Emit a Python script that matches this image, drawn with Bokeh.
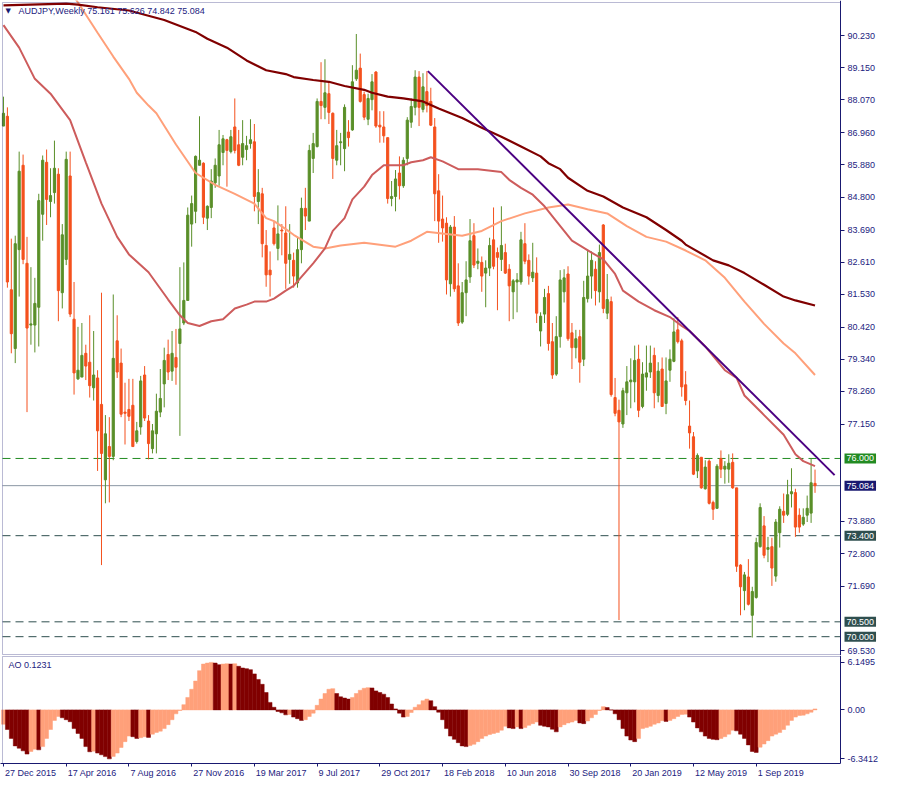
import numpy as np
from bokeh.plotting import figure
from bokeh.layouts import column
from bokeh.models import (ColumnDataSource, FixedTicker, LinearAxis, Label, BoxAnnotation,
                          NumeralTickFormatter, CustomJSTickFormatter, Range1d)
from bokeh.embed import file_html
from bokeh.resources import INLINE

# ---------------- data (weekly AUDJPY, bar 0 = 27 Dec 2015) ----------------
OPEN = [
    87.19, 87.52, 81.68, 79.70, 83.03, 85.87, 82.57, 80.49, 80.49, 81.09,
    84.22, 85.97, 84.65, 84.95, 85.57, 81.58, 82.70, 85.51, 80.69, 78.68,
    78.74, 79.54, 79.24, 78.38, 78.71, 77.82, 75.28, 76.40, 76.07, 79.96,
    79.21, 77.56, 77.65, 77.79, 76.57, 77.06, 78.81, 77.26, 76.33, 76.83,
    77.56, 78.51, 79.50, 78.94, 79.40, 79.87, 80.56, 81.32, 83.89, 84.32,
    85.87, 85.94, 84.09, 84.45, 85.28, 85.51, 86.30, 86.73, 86.33, 87.16,
    86.56, 86.14, 86.40, 86.60, 86.66, 84.65, 84.91, 83.17, 82.34, 83.76,
    83.07, 83.69, 83.59, 82.70, 82.67, 81.91, 83.03, 84.42, 83.99, 86.10,
    86.50, 88.02, 87.82, 88.28, 87.62, 86.04, 86.63, 86.43, 86.99, 87.06,
    88.78, 89.14, 88.25, 87.42, 88.08, 89.01, 87.22, 87.16, 86.80, 84.75,
    84.82, 85.61, 85.18, 86.10, 87.32, 87.82, 88.84, 87.75, 88.35, 88.02,
    87.16, 85.01, 84.06, 83.92, 81.88, 83.79, 81.81, 80.59, 81.58, 82.11,
    83.50, 82.57, 82.60, 82.24, 82.41, 83.36, 82.93, 82.70, 82.93, 82.37,
    81.61, 81.94, 81.94, 83.23, 82.67, 82.08, 82.24, 80.29, 80.86, 81.55,
    79.93, 78.84, 80.10, 81.61, 82.21, 80.23, 79.73, 80.10, 79.34, 81.38,
    82.14, 82.37, 81.61, 83.86, 80.89, 81.28, 78.05, 77.62, 77.16, 78.21,
    78.58, 78.58, 79.34, 77.75, 78.74, 78.91, 79.47, 78.12, 79.01, 77.85,
    78.97, 79.27, 80.33, 79.96, 78.48, 77.09, 76.73, 75.58, 76.04, 74.98,
    75.91, 74.52, 74.32, 76.00, 75.64, 75.64, 75.87, 75.01, 72.41, 71.55,
    72.01, 70.72, 71.32, 73.03, 73.73, 72.94, 73.03, 72.04, 73.50, 74.22,
    74.12, 74.81, 74.85, 74.09, 73.79, 74.09, 74.16, 75.161]
HIGH = [
    88.18, 87.82, 83.40, 83.50, 86.33, 86.23, 83.46, 82.44, 82.08, 84.91,
    86.20, 86.40, 85.77, 86.70, 85.77, 83.89, 86.33, 86.33, 81.94, 80.43,
    80.56, 79.83, 80.82, 80.29, 78.97, 81.58, 77.46, 77.39, 81.52, 80.82,
    79.70, 78.55, 78.68, 78.68, 77.23, 78.78, 79.11, 77.46, 77.16, 78.18,
    79.01, 79.73, 80.00, 80.29, 80.36, 82.44, 82.60, 84.45, 84.85, 86.20,
    87.52, 85.97, 84.52, 85.74, 86.10, 87.06, 86.89, 86.76, 87.06, 88.12,
    87.06, 87.39, 86.86, 87.42, 87.26, 85.74, 85.11, 83.69, 82.97, 83.96,
    84.52, 83.89, 84.49, 83.89, 82.93, 83.46, 84.78, 85.11, 86.56, 86.96,
    88.12, 89.34, 89.44, 88.64, 87.65, 87.06, 86.96, 87.92, 87.39, 89.24,
    90.29, 89.63, 88.35, 88.28, 88.94, 89.04, 87.69, 87.69, 86.80, 85.34,
    85.71, 86.17, 86.14, 87.49, 88.12, 89.07, 89.04, 88.97, 89.04, 88.48,
    87.46, 85.57, 84.85, 84.12, 83.86, 84.16, 82.57, 81.94, 82.64, 84.06,
    83.92, 83.07, 82.80, 82.67, 83.43, 84.45, 83.10, 84.49, 83.23, 82.54,
    82.04, 82.24, 83.63, 83.92, 82.87, 83.26, 82.77, 80.92, 81.71, 81.81,
    80.56, 80.79, 82.34, 82.37, 82.47, 80.56, 80.33, 80.33, 81.98, 83.03,
    82.97, 82.64, 83.20, 83.89, 82.21, 81.45, 78.71, 77.98, 78.38, 79.11,
    79.37, 79.80, 79.83, 79.24, 79.80, 79.80, 79.73, 79.24, 79.40, 79.40,
    79.67, 80.72, 80.76, 80.03, 78.94, 77.95, 76.89, 76.17, 76.04, 75.94,
    75.97, 74.58, 75.81, 76.27, 75.91, 76.14, 76.17, 75.01, 72.44, 72.18,
    72.61, 71.68, 73.33, 74.49, 74.06, 73.36, 73.33, 73.96, 74.39, 74.82,
    75.28, 75.67, 74.98, 74.32, 74.32, 74.75, 76.00, 75.626]
LOW = [
    87.19, 81.75, 79.54, 79.21, 81.45, 82.54, 77.56, 79.83, 79.57, 79.77,
    83.33, 83.86, 84.12, 84.58, 80.62, 81.05, 82.51, 80.76, 78.15, 78.64,
    78.74, 78.64, 78.05, 77.95, 75.58, 72.41, 74.49, 74.52, 75.94, 78.71,
    77.39, 76.47, 77.26, 76.40, 76.50, 76.80, 77.26, 75.97, 76.17, 76.17,
    77.39, 77.72, 78.64, 78.61, 78.48, 76.76, 80.49, 81.32, 83.13, 83.92,
    85.87, 83.89, 83.69, 84.09, 85.11, 85.18, 85.87, 85.15, 86.27, 86.27,
    85.84, 85.87, 86.04, 86.43, 84.32, 83.89, 82.77, 81.78, 81.45, 83.17,
    82.67, 82.84, 81.71, 81.88, 81.75, 81.75, 82.57, 83.69, 83.99, 85.61,
    86.47, 87.42, 87.42, 87.26, 85.41, 85.87, 85.87, 85.67, 86.50, 87.03,
    88.71, 87.98, 87.39, 87.22, 87.72, 87.13, 86.63, 86.63, 84.58, 84.49,
    84.32, 84.72, 85.11, 85.87, 87.13, 87.55, 87.19, 87.65, 87.65, 87.19,
    83.99, 83.26, 83.30, 81.52, 81.45, 81.61, 80.46, 80.53, 80.79, 81.91,
    82.41, 82.37, 81.61, 81.09, 82.14, 82.37, 80.99, 82.31, 82.21, 80.62,
    80.69, 80.92, 81.85, 82.54, 81.85, 81.94, 80.56, 79.77, 80.56, 79.63,
    78.68, 78.78, 79.73, 81.25, 79.96, 79.01, 79.37, 78.55, 79.11, 81.25,
    81.38, 81.15, 81.25, 80.89, 80.69, 78.08, 77.42, 70.56, 77.03, 77.46,
    77.69, 77.89, 77.39, 77.69, 78.28, 78.71, 77.69, 77.89, 77.75, 77.49,
    78.58, 79.24, 79.87, 78.08, 77.79, 76.33, 75.44, 75.34, 74.98, 74.95,
    74.45, 73.93, 74.32, 75.34, 75.15, 75.18, 74.98, 72.18, 70.72, 70.89,
    71.05, 69.97, 71.28, 73.00, 72.64, 72.51, 71.71, 71.85, 73.00, 73.83,
    74.06, 74.35, 73.36, 73.50, 73.73, 73.86, 73.83, 74.842]
CLOSE = [
    87.62, 81.94, 80.20, 83.23, 85.67, 82.70, 80.39, 80.53, 81.22, 84.68,
    86.04, 84.72, 84.85, 85.77, 81.65, 83.53, 86.07, 80.86, 78.88, 78.97,
    79.47, 79.11, 78.45, 78.81, 76.93, 76.17, 76.83, 76.07, 79.37, 78.91,
    77.49, 77.52, 77.42, 76.40, 76.93, 78.61, 77.36, 76.50, 76.93, 77.59,
    78.02, 79.30, 78.91, 79.54, 79.07, 80.36, 81.32, 84.19, 84.58, 86.17,
    86.04, 84.12, 84.49, 85.34, 85.87, 86.56, 86.76, 86.37, 86.83, 86.37,
    85.87, 86.60, 86.53, 86.73, 84.82, 84.95, 83.23, 82.18, 82.18, 83.23,
    83.56, 83.66, 82.57, 82.87, 82.14, 83.03, 84.42, 84.16, 86.37, 86.60,
    88.02, 87.88, 88.31, 87.65, 86.10, 86.53, 86.66, 87.82, 86.80, 88.68,
    89.07, 88.02, 87.49, 88.12, 88.68, 87.19, 87.16, 86.86, 84.75, 84.82,
    85.41, 85.18, 86.04, 87.39, 87.85, 88.84, 87.82, 88.51, 87.88, 87.22,
    84.91, 83.99, 83.76, 82.01, 83.79, 81.71, 80.56, 81.58, 82.01, 83.33,
    82.51, 82.64, 82.14, 82.41, 83.17, 82.47, 82.77, 83.17, 82.24, 81.81,
    81.98, 82.01, 83.36, 82.64, 82.14, 82.27, 80.89, 80.79, 81.42, 79.87,
    78.81, 80.10, 82.01, 82.08, 80.03, 79.73, 80.03, 79.24, 81.42, 82.14,
    82.67, 81.65, 82.93, 81.05, 81.35, 78.15, 77.52, 77.23, 78.28, 78.58,
    78.64, 79.30, 77.62, 78.84, 78.88, 79.21, 78.21, 78.94, 77.75, 78.61,
    79.34, 80.26, 79.93, 78.41, 77.95, 76.86, 75.47, 76.10, 75.01, 75.71,
    74.49, 74.29, 75.74, 75.64, 75.74, 75.84, 75.01, 72.37, 71.68, 72.08,
    71.09, 71.52, 73.17, 74.35, 72.74, 73.00, 72.31, 73.86, 74.29, 74.09,
    74.78, 74.88, 73.69, 73.69, 74.02, 74.32, 75.18, 75.084]

# moving averages (read at selected bars)
MA_SLOW_BARS = [0, 16, 19, 24, 32, 41, 49, 52, 57, 62, 67, 72, 74, 79, 83, 87, 92, 94,
                98, 102, 107, 111, 117, 122, 127, 132, 137, 139, 142, 144, 149, 153, 158,
                164, 169, 173, 174, 181, 185, 189, 194, 199, 202, 207]
MA_SLOW = [91.25, 91.31, 91.28, 91.19, 91.08, 90.76, 90.36, 90.13, 89.83, 89.40, 89.07,
           88.94, 88.84, 88.74, 88.68, 88.54, 88.41, 88.31, 88.18, 88.12, 88.02, 87.78,
           87.46, 87.13, 86.83, 86.50, 86.17, 85.94, 85.74, 85.45, 85.01, 84.82, 84.45,
           84.12, 83.69, 83.33, 83.20, 82.67, 82.50, 82.24, 81.85, 81.45, 81.32, 81.15]
MA_MID_BARS = [17, 19, 24, 28, 32, 34, 37, 39, 44, 49, 54, 59, 64, 67, 69, 72, 74, 79, 82,
               86, 92, 100, 104, 108, 113, 117, 122, 127, 133, 139, 144, 149, 154, 159,
               164, 169, 174, 179, 184, 189, 194, 199, 202, 207]
MA_MID = [91.73, 91.35, 90.33, 89.53, 88.78, 88.31, 87.88, 87.62, 86.57, 85.61, 85.21,
          84.91, 84.58, 84.09, 83.99, 83.72, 83.53, 83.13, 83.07, 83.17, 83.26, 83.13,
          83.33, 83.63, 83.56, 83.50, 83.66, 83.99, 84.25, 84.45, 84.55, 84.39, 84.25,
          83.82, 83.46, 83.30, 83.00, 82.67, 82.08, 81.28, 80.53, 79.87, 79.54, 78.81]
MA_FAST_BARS = [0, 4, 8, 12, 17, 21, 25, 29, 32, 37, 42, 45, 47, 50, 53, 56, 59, 62, 64,
                67, 69, 72, 74, 79, 82, 84, 87, 89, 92, 94, 97, 102, 104, 107, 109, 112,
                116, 121, 127, 129, 132, 135, 138, 141, 145, 150, 153, 156, 158, 162, 166,
                170, 173, 175, 177, 179, 184, 187, 189, 194, 199, 202, 204, 207]
MA_FAST = [90.59, 89.83, 88.78, 88.28, 87.39, 85.97, 84.58, 83.46, 82.87, 82.27, 81.35,
           80.82, 80.56, 80.46, 80.62, 80.69, 81.05, 81.18, 81.28, 81.28, 81.38, 81.65,
           81.81, 82.57, 83.07, 83.66, 84.09, 84.72, 85.15, 85.54, 85.87, 85.87, 85.97,
           86.04, 86.14, 86.00, 85.74, 85.74, 85.64, 85.38, 85.11, 84.88, 84.49, 83.99,
           83.33, 82.93, 82.70, 82.21, 81.65, 81.28, 80.99, 80.76, 80.46, 80.29, 80.03,
           79.77, 78.97, 78.71, 78.12, 77.46, 76.80, 76.14, 75.91, 75.74]

TREND_BARS = [108.25, 212.0]
TREND_PRICES = [89.04, 75.44]

AO = [
    -1.86, -2.54, -3.69, -4.66, -4.96, -5.30, -5.72, -5.38, -5.08, -5.17,
    -4.75, -3.69, -2.54, -1.36, -0.85, -1.02, -1.27, -1.53, -2.42, -3.05,
    -3.69, -4.75, -5.42, -5.34, -5.59, -5.81, -6.05, -6.3412, -6.02, -5.59,
    -4.87, -4.11, -3.39, -3.47, -3.69, -3.60, -3.47, -3.56, -3.14, -2.92,
    -2.75, -2.42, -1.91, -1.27, -0.51, -0.08, 0.68, 1.61, 2.67, 3.73,
    5.08, 5.93, 6.06, 6.1495, 6.06, 5.85, 5.93, 5.97, 5.93, 5.97,
    5.64, 5.42, 5.34, 5.21, 4.66, 3.94, 3.31, 2.25, 0.97, 0.34,
    -0.21, -0.38, -0.64, -0.60, -0.93, -1.14, -1.36, -1.27, -0.85, -0.42,
    0.59, 1.40, 2.12, 2.67, 2.75, 2.12, 1.69, 1.53, 1.40, 1.61,
    2.12, 2.54, 2.80, 2.88, 2.84, 2.46, 2.25, 2.03, 1.61, 0.76,
    0.13, -0.42, -0.93, -0.85, -0.34, 0.34, 0.68, 1.19, 1.40, 1.19,
    0.42, -0.30, -1.27, -2.42, -3.39, -3.81, -4.24, -4.66, -4.75, -4.62,
    -4.45, -4.11, -3.69, -3.39, -3.18, -3.05, -2.92, -2.63, -2.12, -2.33,
    -2.42, -2.20, -2.42, -2.29, -2.00, -1.78, -1.57, -2.00, -2.12, -2.20,
    -2.50, -2.84, -2.20, -1.91, -1.69, -1.57, -1.36, -1.69, -1.78, -1.44,
    -1.02, -0.59, -0.08, 0.42, 0.30, -0.02, -0.51, -1.27, -2.42, -3.39,
    -3.90, -4.11, -3.69, -2.42, -2.29, -2.12, -1.86, -1.69, -1.40, -1.49,
    -1.36, -1.14, -0.85, -0.59, -0.55, -0.93, -1.57, -2.33, -2.84, -3.39,
    -3.69, -3.81, -3.86, -3.69, -3.47, -3.14, -2.63, -2.71, -3.14, -3.69,
    -4.53, -5.38, -5.51, -4.83, -4.41, -3.98, -3.39, -3.14, -2.92, -2.54,
    -1.99, -1.36, -0.93, -0.72, -0.68, -0.51, -0.30, 0.1231]

PRICE_TICKS = [90.230, 89.150, 88.070, 86.960, 85.880, 84.800, 83.690, 82.610, 81.530,
               80.420, 79.340, 78.260, 77.150, 73.880, 72.800, 71.690, 69.530]
AO_TICKS = [6.1495, 0.0, -6.3412]
DATE_TICK_BARS = [0, 16, 32, 48, 64, 80, 96, 112, 128, 144, 160, 176, 192]
DATE_LABELS = ["27 Dec 2015", "17 Apr 2016", "7 Aug 2016", "27 Nov 2016", "19 Mar 2017",
               "9 Jul 2017", "29 Oct 2017", "18 Feb 2018", "10 Jun 2018", "30 Sep 2018",
               "20 Jan 2019", "12 May 2019", "1 Sep 2019"]
LABEL_EM = [5.67, 5.45, 5.12, 5.67, 5.61, 4.61, 5.45, 5.62, 5.50, 5.67, 5.50, 5.78, 5.12]

LEVELS = [76.000, 73.400, 70.500, 70.000]
LEVEL_KIND = ["green", "slate", "slate", "slate"]
BID = 75.084
TITLE = "AUDJPY,Weekly  75.161 75.626 74.842 75.084"
AO_TITLE = "AO 0.1231"

# ---------------- styling / geometry ----------------
FONT = "Liberation Sans"
FS = "9px"
NAVY = "#191970"
TEXT = "#1c2280"
BULL = "#5a8f29"
BEAR = "#f4511e"
GREEN = "#228b22"
SLATE = "#2f4f4f"
BIDC = "#8a96a3"
C_SLOW = "#800000"
C_MID = "#ffa07a"
C_FAST = "#cd5c5c"
C_TREND = "#4b0082"

W = 884                      # whole width: the price column lies inside the frame
X_LEFT, X_AXIS = -0.25, 213.5
PX = 838 / (X_AXIS - X_LEFT)  # pixels per bar
XR0 = X_LEFT - 2 / PX
XR1 = XR0 + W / PX

P_TOP, P_BOT = 91.35, 69.40
PPU = 652 / (P_TOP - P_BOT)
MAIN_H = 655
YR1 = P_TOP + 2 / PPU
YR0 = YR1 - MAIN_H / PPU

A_TOP, A_BOT = 6.91, -6.94
APU = 107 / (A_TOP - A_BOT)
AO_H = 108
AYR1 = A_TOP + 1 / APU
AYR0 = AYR1 - AO_H / APU

o = np.array(OPEN); h = np.array(HIGH); l = np.array(LOW); c = np.array(CLOSE)
n = len(c)
idx = np.arange(n)
up = c >= o


def price_axis(ticks, formatter):
    return LinearAxis(fixed_location=X_AXIS, ticker=FixedTicker(ticks=ticks),
                      formatter=formatter, axis_line_color=NAVY,
                      major_tick_line_color=NAVY, major_tick_out=4, major_tick_in=0,
                      minor_tick_line_color=None, major_label_standoff=3,
                      major_label_text_font=FONT, major_label_text_font_size=FS,
                      major_label_text_color=TEXT)


p = figure(frame_width=W, frame_height=MAIN_H,
           x_range=Range1d(XR0, XR1), y_range=Range1d(YR0, YR1),
           output_backend="svg", toolbar_location=None,
           x_axis_location=None, y_axis_location=None,
           min_border_left=0, min_border_right=0, min_border_top=0, min_border_bottom=0,
           background_fill_color="white", border_fill_color="white")
p.grid.visible = False
p.outline_line_color = None
p.add_layout(price_axis(PRICE_TICKS, NumeralTickFormatter(format="0.000")), "right")
p.add_layout(BoxAnnotation(left=X_LEFT, right=X_AXIS, bottom=P_BOT, top=P_TOP,
                           fill_alpha=0, line_color=NAVY, line_width=1))

# horizontal levels (stop at the price axis)
lev_cols = [GREEN if k == "green" else SLATE for k in LEVEL_KIND]
p.segment(x0=[X_LEFT] * len(LEVELS), y0=LEVELS, x1=[X_AXIS] * len(LEVELS), y1=LEVELS,
          line_color=lev_cols, line_dash="8 5", line_width=1)
p.segment(x0=[X_LEFT], y0=[BID], x1=[X_AXIS], y1=[BID], line_color=BIDC, line_width=1)

# candles
for mask, col in ((up, BULL), (~up, BEAR)):
    src = ColumnDataSource(dict(x=idx[mask], hi=h[mask], lo=l[mask],
                                top=np.maximum(o, c)[mask], bot=np.minimum(o, c)[mask]))
    p.segment(x0="x", y0="lo", x1="x", y1="hi", source=src, line_color=col, line_width=1)
    p.vbar(x="x", width=0.55, top="top", bottom="bot", source=src,
           fill_color=col, line_color=col, line_width=1)

# moving averages and trend line
p.line(MA_MID_BARS, MA_MID, line_color=C_MID, line_width=2)
p.line(MA_FAST_BARS, MA_FAST, line_color=C_FAST, line_width=2)
p.line(MA_SLOW_BARS, MA_SLOW, line_color=C_SLOW, line_width=2.2)
p.line(TREND_BARS, TREND_PRICES, line_color=C_TREND, line_width=2)

# price boxes on the axis
for lev, col in zip(LEVELS, lev_cols):
    p.add_layout(Label(x=X_AXIS, y=lev, x_offset=4, text=f"{lev:.3f}", text_font=FONT,
                       text_font_size=FS, text_color="white", text_baseline="middle",
                       text_align="left", background_fill_color=col, padding=2))
p.add_layout(Label(x=X_AXIS, y=BID, x_offset=4, text=f"{BID:.3f}", text_font=FONT,
                   text_font_size=FS, text_color="white", text_baseline="middle",
                   text_align="left", background_fill_color=NAVY, padding=2))

# title
p.add_layout(Label(x=X_LEFT, x_offset=3, y=91.07, text="\u25bc", text_font="DejaVu Sans",
                   text_font_size="7px", text_color=NAVY, text_baseline="middle"))
p.add_layout(Label(x=X_LEFT, x_offset=16, y=91.08, text=TITLE, text_font=FONT,
                   text_font_size=FS, text_color=TEXT, text_baseline="middle"))

# ---------------- AO panel ----------------
ao = np.array(AO)
ao_col = [C_MID] + [C_MID if ao[i] > ao[i - 1] else C_SLOW for i in range(1, len(ao))]

q = figure(frame_width=W, frame_height=AO_H,
           x_range=p.x_range, y_range=Range1d(AYR0, AYR1),
           output_backend="svg", toolbar_location=None,
           x_axis_location=None, y_axis_location=None,
           min_border_left=0, min_border_right=0, min_border_top=0, min_border_bottom=3,
           background_fill_color="white", border_fill_color="white")
q.grid.visible = False
q.outline_line_color = None
q.add_layout(price_axis(AO_TICKS, CustomJSTickFormatter(
    code="return Math.abs(tick) < 1e-9 ? '0.00' : tick.toFixed(4);")), "right")
q.add_layout(BoxAnnotation(left=X_LEFT, right=X_AXIS, top=A_TOP,
                           fill_alpha=0, line_color=NAVY, line_width=1))

q.vbar(x=list(range(len(ao))), width=1.0, top=AO, bottom=0,
       fill_color=ao_col, line_color=ao_col, line_width=0.5)

q.add_layout(Label(x=X_LEFT, x_offset=6, y=5.86, text=AO_TITLE, text_font=FONT,
                   text_font_size=FS, text_color=TEXT, text_baseline="middle"))

# date axis: minor ticks mark the weeks, labels start just right of each mark
label_pos = [b + (1.5 + em * 9 / 2) / PX for b, em in zip(DATE_TICK_BARS, LABEL_EM)]
dax = LinearAxis(ticker=FixedTicker(ticks=label_pos, minor_ticks=DATE_TICK_BARS),
                 formatter=CustomJSTickFormatter(args=dict(labels=DATE_LABELS),
                                                 code="return labels[index];"),
                 bounds=(XR0, X_AXIS),
                 axis_line_color=NAVY, major_tick_line_color=None,
                 minor_tick_line_color=NAVY, major_tick_out=3, major_tick_in=0,
                 minor_tick_out=3, minor_tick_in=0, major_label_standoff=1,
                 major_label_text_font=FONT, major_label_text_font_size=FS,
                 major_label_text_color=TEXT)
q.add_layout(dax, "below")

layout = column(p, q, spacing=0)
open("out.html", "w").write(file_html(layout, INLINE, title="AUDJPY,Weekly"))
